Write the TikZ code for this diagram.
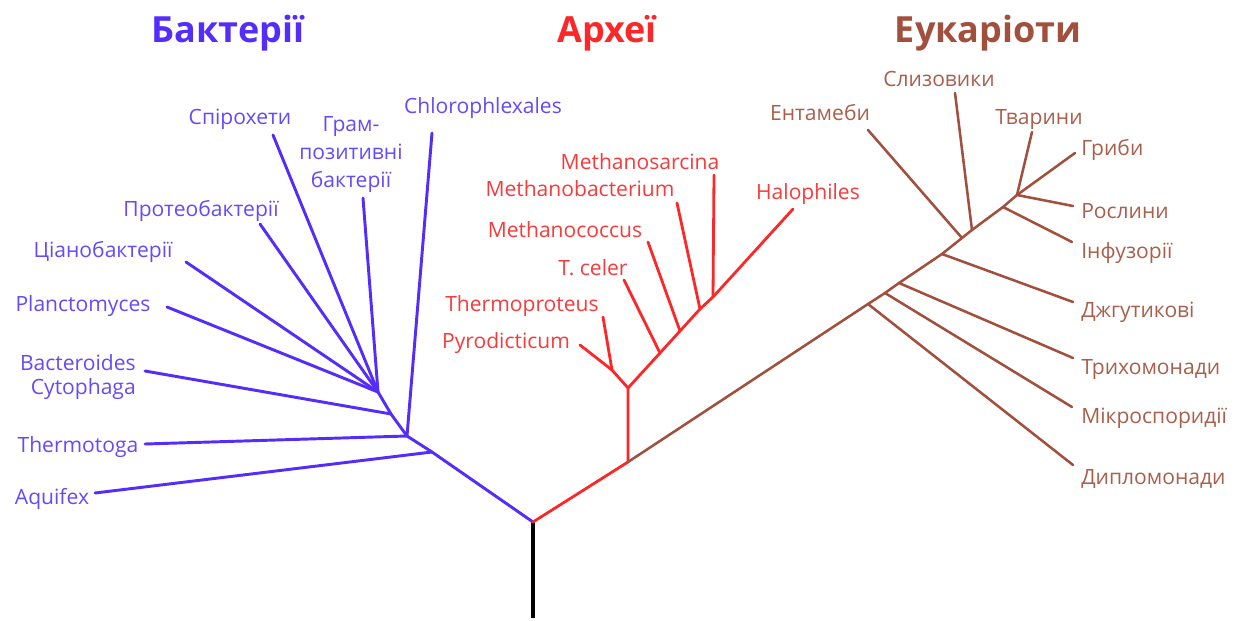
\documentclass[tikz,border=0pt]{standalone}
\usepackage{fontspec}
\setmainfont{Open Sans}
\definecolor{bl}{RGB}{85,45,250}
\definecolor{bltxt}{RGB}{100,75,250}
\definecolor{rd}{RGB}{250,40,40}
\definecolor{rdtxt}{RGB}{245,60,60}
\definecolor{bn}{RGB}{160,80,60}
\definecolor{bntxt}{RGB}{168,95,75}
\begin{document}
\begin{tikzpicture}[x=0.75pt,y=-0.75pt,
  bbranch/.style={draw=bl,line width=2.2pt,line cap=round,line join=round},
  rbranch/.style={draw=rd,line width=2.1pt,line cap=round,line join=round},
  kbranch/.style={draw=bn,line width=1.9pt,line cap=round,line join=round},
  lbl/.style={font=\fontsize{15.8}{21}\selectfont,inner sep=0pt,anchor=mid,yshift=-3pt},
  blbl/.style={lbl,text=bltxt},
  rlbl/.style={lbl,text=rdtxt},
  klbl/.style={lbl,text=bntxt},
  ttl/.style={font=\fontsize{27}{30}\selectfont\bfseries,inner sep=0pt,anchor=base}]
\useasboundingbox (0,0) rectangle (1254,621);
% titles
\node[ttl,text=bl] (tB) at (228,42) {Бактерії};
\node[ttl,text=rd] (tA) at (607,42) {Археї};
\node[ttl,text=bn] (tE) at (988,42) {Еукаріоти};
% root
\coordinate (R) at (533,522);
\coordinate (R0) at (533,618);
\draw[line width=3pt,black] (R0) -- (R);
% ---------- bacteria ----------
\coordinate (bA) at (432,452);
\coordinate (bT) at (407,436);
\coordinate (bB) at (391,414);
\coordinate (bG) at (378,392);
\coordinate (eAq) at (95,493);
\coordinate (eTh) at (145,444);
\coordinate (eCh) at (432,133);
\coordinate (eBa) at (145,371);
\coordinate (eGr) at (363,198);
\coordinate (ePl) at (167,307);
\coordinate (eCy) at (186,262);
\coordinate (ePr) at (260,224);
\coordinate (eSp) at (273,135);
\draw[bbranch] (R) -- (bA) -- (bT) -- (bB) -- (bG);
\draw[bbranch] (bA) -- (eAq);
\draw[bbranch] (bT) -- (eTh);
\draw[bbranch] (bT) -- (eCh);
\draw[bbranch] (bB) -- (eBa);
\draw[bbranch] (bG) -- (eGr);
\draw[bbranch] (bG) -- (ePl);
\draw[bbranch] (bG) -- (eCy);
\draw[bbranch] (bG) -- (ePr);
\draw[bbranch] (bG) -- (eSp);
\node[blbl] (lSp) at (240,117) {Спірохети};
\node[blbl,align=center,anchor=center,font=\fontsize{15.8}{21}\selectfont] (lGr) at (351,151) {Грам-\\позитивні\\бактерії};
\node[blbl] (lCh) at (483,106) {Chlorophlexales};
\node[blbl] (lPr) at (201,209) {Протеобактерії};
\node[blbl] (lCy) at (103,250) {Ціанобактерії};
\node[blbl] (lPl) at (83,304) {Planctomyces};
\node[blbl,align=right,anchor=east,font=\fontsize{15.8}{18}\selectfont] (lBa) at (136,373) {Bacteroides\\Cytophaga};
\node[blbl] (lTh) at (78,445) {Thermotoga};
\node[blbl] (lAq) at (52,497) {Aquifex};
% ---------- archaea ----------
\coordinate (rJ) at (628,462);
\coordinate (rA) at (628,388);
\coordinate (rP) at (612,370);
\coordinate (rTc) at (660,353);
\coordinate (rMc) at (680,331);
\coordinate (rMb) at (700,309);
\coordinate (rMs) at (713,297);
\coordinate (ePy) at (580,345);
\coordinate (eTp) at (603,317);
\coordinate (eTc) at (624,280);
\coordinate (eMc) at (648,242);
\coordinate (eMb) at (677,203);
\coordinate (eMs) at (714,175);
\coordinate (eHa) at (793,209);
\draw[rbranch] (R) -- (rJ) -- (rA) -- (rP);
\draw[rbranch] (rP) -- (ePy);
\draw[rbranch] (rP) -- (eTp);
\draw[rbranch] (rA) -- (rTc) -- (rMc) -- (rMb) -- (rMs) -- (eHa);
\draw[rbranch] (rTc) -- (eTc);
\draw[rbranch] (rMc) -- (eMc);
\draw[rbranch] (rMb) -- (eMb);
\draw[rbranch] (rMs) -- (eMs);
\node[rlbl] (lMs) at (640,162) {Methanosarcina};
\node[rlbl] (lMb) at (580,189) {Methanobacterium};
\node[rlbl] (lMc) at (565,230) {Methanococcus};
\node[rlbl] (lTc) at (593,268) {T. celer};
\node[rlbl] (lTp) at (522,304) {Thermoproteus};
\node[rlbl] (lPy) at (506,341) {Pyrodicticum};
\node[rlbl] (lHa) at (808,192) {Halophiles};
% ---------- eukaryotes ----------
\coordinate (kD) at (868,304);
\coordinate (kM) at (885,293);
\coordinate (kT) at (899,283);
\coordinate (kJ) at (942,254);
\coordinate (kE) at (962,238);
\coordinate (kS) at (972,230);
\coordinate (kI) at (1003,207);
\coordinate (kG) at (1017,195);
\coordinate (eGb) at (1075,153);
\coordinate (eDi) at (1073,465);
\coordinate (eMi) at (1072,407);
\coordinate (eTr) at (1073,358);
\coordinate (eDz) at (1073,302);
\coordinate (eEn) at (868,130);
\coordinate (eSl) at (955,93);
\coordinate (eIn) at (1072,242);
\coordinate (eRo) at (1073,206);
\coordinate (eTv) at (1032,132);
\draw[kbranch] (rJ) -- (kD) -- (kM) -- (kT) -- (kJ) -- (kE) -- (kS) -- (kI) -- (kG) -- (eGb);
\draw[kbranch] (kD) -- (eDi);
\draw[kbranch] (kM) -- (eMi);
\draw[kbranch] (kT) -- (eTr);
\draw[kbranch] (kJ) -- (eDz);
\draw[kbranch] (kE) -- (eEn);
\draw[kbranch] (kS) -- (eSl);
\draw[kbranch] (kI) -- (eIn);
\draw[kbranch] (kG) -- (eRo);
\draw[kbranch] (kG) -- (eTv);
\node[klbl] (lSl) at (939,79) {Слизовики};
\node[klbl] (lEn) at (820,113) {Ентамеби};
\node[klbl] (lTv) at (1039,117) {Тварини};
\node[klbl,anchor=mid west] (lGb) at (1081,148) {Гриби};
\node[klbl,anchor=mid west] (lRo) at (1081,211) {Рослини};
\node[klbl,anchor=mid west] (lIn) at (1081,251) {Інфузорії};
\node[klbl,anchor=mid west] (lDz) at (1081,310) {Джгутикові};
\node[klbl,anchor=mid west] (lTr) at (1081,367) {Трихомонади};
\node[klbl,anchor=mid west] (lMi) at (1081,416) {Мікроспоридії};
\node[klbl,anchor=mid west] (lDi) at (1081,477) {Дипломонади};
\end{tikzpicture}
\end{document}
